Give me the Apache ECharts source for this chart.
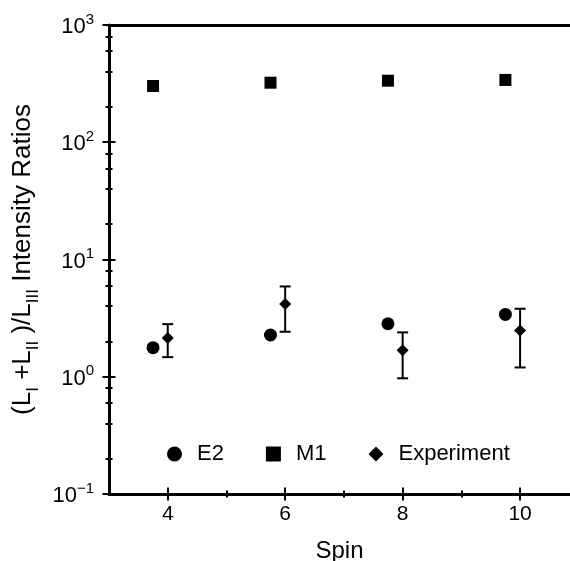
<!DOCTYPE html>
<html lang="en">
<head>
  <meta charset="UTF-8">
  <title>Intensity ratios vs spin</title>
  <script src="https://cdn.jsdelivr.net/npm/echarts@6/dist/echarts.min.js"></script>
  <style>
    html, body { margin: 0; padding: 0; background: #fff; overflow: hidden; }
  </style>
</head>
<body>
    <div id="main" style="width: 570px;height:561px;"></div>
    <script type="text/javascript">
        // data
        var spinTheory = [3.75, 5.75, 7.75, 9.75];   // E2 / M1 drawn slightly left
        var spinExp = [4, 6, 8, 10];
        var e2Ratio = [1.77, 2.27, 2.83, 3.40];
        var m1Ratio = [302, 322, 335, 340];
        var expRatio = [2.14, 4.17, 1.68, 2.48];
        var expLow = [1.47, 2.42, 0.97, 1.20];
        var expHigh = [2.81, 5.89, 2.39, 3.80];

        var xMajor = [4, 6, 8, 10];
        var xMinor = [5, 7, 9];
        var yMajor = [0.1, 1, 10, 100, 1000];
        var yMinor = [0.2, 0.4, 0.6, 0.8, 2, 4, 6, 8, 20, 40, 60, 80, 200, 400, 600, 800];

        // the figure is cut off on the right, a little before spin 11
        var xMin = 3, xMax = 10.85;

        var font = "'Liberation Sans', Arial, Helvetica, sans-serif";

        function pairs(xs, ys) {
            var out = [];
            for (var i = 0; i < xs.length; i++) out.push([xs[i], ys[i]]);
            return out;
        }
        var errData = [];
        for (var i = 0; i < spinExp.length; i++) {
            errData.push([spinExp[i], expLow[i], expHigh[i]]);
        }

        var myChart = echarts.init(document.getElementById('main'));

        // a bare x axis used only to draw ticks (crossing the axis line via negative offset)
        function xTickAxis(vals, len) {
            return {
                type: 'value', position: 'bottom', min: xMin, max: xMax, offset: -len / 2,
                axisLine: { show: false },
                axisTick: { show: true, length: len, customValues: vals, lineStyle: { color: '#000', width: 2 } },
                axisLabel: { show: false }, splitLine: { show: false }
            };
        }
        function yTickAxis(vals, len) {
            return {
                type: 'log', logBase: 10, position: 'left', min: 0.1, max: 1000, offset: -len / 2,
                axisLine: { show: false },
                axisTick: { show: true, length: len, customValues: vals, lineStyle: { color: '#000', width: 2 } },
                axisLabel: { show: false }, splitLine: { show: false }
            };
        }

        var option = {
            animation: false,
            textStyle: { fontFamily: font, color: '#000' },
            grid: { left: 109, right: 0, top: 25, bottom: 67, containLabel: false, outerBoundsMode: 'none' },
            legend: {
                data: ['E2', 'M1', 'Experiment'],
                left: 167, top: 443, padding: 0,
                itemWidth: 15, itemHeight: 15, itemGap: 42,
                itemStyle: { opacity: 1 },
                textStyle: { fontSize: 22, color: '#000', fontFamily: font, padding: [0, 0, 0, 10] }
            },
            xAxis: [
                {
                    type: 'value', position: 'bottom', min: xMin, max: xMax,
                    name: 'Spin', nameLocation: 'middle', nameGap: 45,
                    nameTextStyle: { fontSize: 24, color: '#000', fontFamily: font },
                    axisLine: { show: true, lineStyle: { color: '#000', width: 3 } },
                    axisTick: { show: false },
                    axisLabel: { customValues: xMajor, fontSize: 21, color: '#000', margin: 10, fontFamily: font },
                    splitLine: { show: false }
                },
                xTickAxis(xMajor, 13),
                xTickAxis(xMinor, 7),
                {
                    type: 'value', position: 'top', min: xMin, max: xMax,
                    axisLine: { show: true, lineStyle: { color: '#000', width: 3 } },
                    axisTick: { show: false }, axisLabel: { show: false }, splitLine: { show: false }
                }
            ],
            yAxis: [
                {
                    type: 'log', logBase: 10, position: 'left', min: 0.1, max: 1000,
                    name: '{m|(L}{s|I}{m| +L}{s|II}{m| )/L}{s|III}{m| Intensity Ratios}',
                    nameLocation: 'middle', nameGap: 64, nameRotate: 90,
                    nameTextStyle: {
                        fontFamily: font, color: '#000',
                        rich: {
                            m: { fontSize: 26, lineHeight: 32, verticalAlign: 'top', fontFamily: font, color: '#000' },
                            s: { fontSize: 17, lineHeight: 17, verticalAlign: 'bottom', fontFamily: font, color: '#000' }
                        }
                    },
                    axisLine: { show: true, lineStyle: { color: '#000', width: 3 } },
                    axisTick: { show: false },
                    axisLabel: {
                        customValues: yMajor, margin: 15, fontFamily: font, color: '#000',
                        formatter: function (v) {
                            var e = Math.round(Math.log(v) / Math.LN10);
                            return '{b|10}{p|' + (e < 0 ? '\u2212' + (-e) : e) + '}';
                        },
                        rich: {
                            b: { fontSize: 22, lineHeight: 26, verticalAlign: 'bottom', fontFamily: font, color: '#000' },
                            p: { fontSize: 15, lineHeight: 15, verticalAlign: 'top', fontFamily: font, color: '#000' }
                        }
                    },
                    splitLine: { show: false }
                },
                yTickAxis(yMajor, 13),
                yTickAxis(yMinor, 7)
            ],
            series: [
                {
                    name: 'E2', type: 'scatter', symbol: 'circle', symbolSize: 13,
                    itemStyle: { color: '#000', opacity: 1 }, data: pairs(spinTheory, e2Ratio)
                },
                {
                    name: 'M1', type: 'scatter', symbol: 'rect', symbolSize: 12,
                    itemStyle: { color: '#000', opacity: 1 }, data: pairs(spinTheory, m1Ratio)
                },
                {
                    name: 'errbar', type: 'custom', z: 1,
                    encode: { x: 0, y: [1, 2] },
                    renderItem: function (params, api) {
                        var x = api.value(0);
                        var lo = api.coord([x, api.value(1)]);
                        var hi = api.coord([x, api.value(2)]);
                        var w = 5.5;
                        var st = { stroke: '#000', lineWidth: 2 };
                        return {
                            type: 'group',
                            children: [
                                { type: 'line', shape: { x1: hi[0], y1: hi[1], x2: lo[0], y2: lo[1] }, style: st },
                                { type: 'line', shape: { x1: hi[0] - w, y1: hi[1], x2: hi[0] + w, y2: hi[1] }, style: st },
                                { type: 'line', shape: { x1: lo[0] - w, y1: lo[1], x2: lo[0] + w, y2: lo[1] }, style: st }
                            ]
                        };
                    },
                    data: errData
                },
                {
                    name: 'Experiment', type: 'scatter', symbol: 'diamond', symbolSize: 12, z: 3,
                    itemStyle: { color: '#000', opacity: 1 }, data: pairs(spinExp, expRatio)
                }
            ]
        };

        myChart.setOption(option);
    </script>
</body>
</html>
